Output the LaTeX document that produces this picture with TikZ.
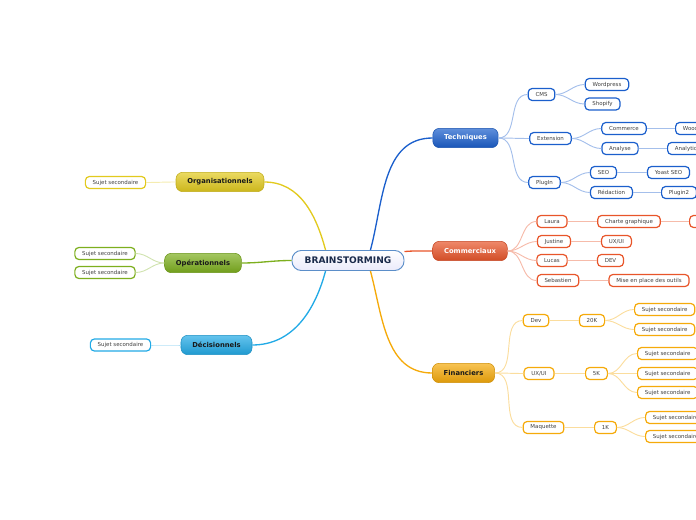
\documentclass[tikz,border=0pt]{standalone}
\usepackage{fontspec}
\setmainfont{DejaVu Sans}
\definecolor{techblue}{HTML}{1B5FCC}
\definecolor{commred}{HTML}{E8552A}
\definecolor{finorange}{HTML}{F5AA0A}
\definecolor{orgayellow}{HTML}{E2CA1E}
\definecolor{opergreen}{HTML}{7DAF1E}
\definecolor{decblue}{HTML}{22AAE6}
\definecolor{brainline}{HTML}{5B8EC9}
\definecolor{braintext}{HTML}{1A2A4A}
\tikzset{
  centre/.style={draw=brainline, line width=0.7pt, rounded corners=7pt, top color=white, bottom color=black!20!blue!8!white,
    text=braintext, minimum height=15pt, inner xsep=9.5pt, font=\fontsize{6.8}{8}\selectfont\bfseries},
  mainbox/.style={draw=#1!85!black, line width=0.4pt, rounded corners=5pt, top color=#1!70!white, bottom color=#1!90!black,
    text=black!90, minimum height=14.5pt, inner xsep=8.5pt, font=\fontsize{5.1}{6}\selectfont\bfseries},
  leaf/.style={draw=#1, line width=0.9pt, fill=white, rounded corners=3pt, minimum height=9pt, inner xsep=5.5pt, inner ysep=0pt,
    text=black!75, font=\fontsize{4.1}{5}\selectfont},
  link/.style={draw=#1, line width=0.7pt},
  mainlink/.style={draw=#1, line width=1pt}
}
\begin{document}
\begin{tikzpicture}[x=0.75pt,y=-0.75pt]
\useasboundingbox (0,0) rectangle (696,520);
\clip (0,0) rectangle (696,520);

\node[centre] (brain) at (348,260.5) {BRAINSTORMING};
\node[mainbox=techblue,text=white] (tech) at (465.5,138) {Techniques};
\node[mainbox=commred,text=white] (comm) at (470,251) {Commerciaux};
\node[mainbox=finorange] (fin) at (463.5,373) {Financiers};
\node[mainbox=orgayellow] (orga) at (220,182) {Organisationnels};
\node[mainbox=opergreen] (oper) at (203,263) {Opérationnels};
\node[mainbox=decblue] (deci) at (216.5,345) {Décisionnels};

\draw[mainlink=techblue] (brain.25) to[out=75,in=180] (tech.west);
\draw[mainlink=commred] (brain.9) to[out=5,in=180] (comm.west);
\draw[mainlink=finorange] (brain.-25) to[out=-75,in=180] (fin.west);
\draw[mainlink=orgayellow] (brain.155) to[out=105,in=0] (orga.east);
\draw[mainlink=opergreen] (brain.west) to[out=180,in=0] (oper.east);
\draw[mainlink=decblue] (brain.-155) to[out=-105,in=0] (deci.east);

\node[leaf=orgayellow] (orga1) at (115.5,182.5) {Sujet secondaire};
\node[leaf=opergreen] (oper1) at (105,253.5) {Sujet secondaire};
\node[leaf=opergreen] (oper2) at (105,272.5) {Sujet secondaire};
\node[leaf=decblue] (deci1) at (120.5,345) {Sujet secondaire};
\draw[link=orgayellow!35] (orga.west) to[out=180,in=0] (orga1.east);
\draw[link=opergreen!35] (oper.west) to[out=180,in=0] (oper1.east);
\draw[link=opergreen!35] (oper.west) to[out=180,in=0] (oper2.east);
\draw[link=decblue!35] (deci.west) to[out=180,in=0] (deci1.east);

\node[leaf=techblue] (cms) at (541.5,94.5) {CMS};
\node[leaf=techblue] (wordpress) at (607,84.5) {Wordpress};
\node[leaf=techblue] (shopify) at (602.5,104) {Shopify};
\node[leaf=techblue] (ext) at (550.5,138.5) {Extension};
\node[leaf=techblue] (commerce) at (624,128.5) {Commerce};
\node[leaf=techblue] (analyse) at (620,148.5) {Analyse};
\node[leaf=techblue,anchor=west] (woo) at (675,128.5) {Woocommerce};
\node[leaf=techblue,anchor=west] (analytics) at (667,148.5) {Analytics};
\node[leaf=techblue] (plugin) at (544.5,182.5) {PlugIn};
\node[leaf=techblue] (seo) at (603.5,172.5) {SEO};
\node[leaf=techblue] (yoast) at (668.5,172.5) {Yoast SEO};
\node[leaf=techblue] (redac) at (611.5,192.5) {Rédaction};
\node[leaf=techblue,anchor=west] (plugin2) at (661,192.5) {Plugin2};
\foreach \a/\b in {tech/cms,tech/ext,tech/plugin,cms/wordpress,cms/shopify,ext/commerce,ext/analyse,
  commerce/woo,analyse/analytics,plugin/seo,plugin/redac,seo/yoast,redac/plugin2}
  \draw[link=techblue!40] (\a.east) to[out=0,in=180] (\b.west);

\node[leaf=commred] (laura) at (552,221.5) {Laura};
\node[leaf=commred] (charte) at (629,221.5) {Charte graphique};
\node[leaf=commred,anchor=west,minimum width=20pt] (chartenext) at (689,221.5) {};
\node[leaf=commred] (justine) at (554,241.5) {Justine};
\node[leaf=commred] (uxui) at (616.5,241.5) {UX/UI};
\node[leaf=commred] (lucas) at (552,260.5) {Lucas};
\node[leaf=commred] (dev) at (610.5,260.5) {DEV};
\node[leaf=commred] (sebastien) at (558,280.5) {Sebastien};
\node[leaf=commred] (outils) at (649,280.5) {Mise en place des outils};
\foreach \a/\b in {comm/laura,comm/justine,comm/lucas,comm/sebastien,laura/charte,charte/chartenext,
  justine/uxui,lucas/dev,sebastien/outils}
  \draw[link=commred!40] (\a.east) to[out=0,in=180] (\b.west);

\node[leaf=finorange] (fdev) at (536,320.5) {Dev};
\node[leaf=finorange] (k20) at (592,320.5) {20K};
\node[leaf=finorange] (fux) at (539,373.5) {UX/UI};
\node[leaf=finorange] (k5) at (596.5,373.5) {5K};
\node[leaf=finorange] (maq) at (543.5,427.5) {Maquette};
\node[leaf=finorange] (k1) at (605.5,427.5) {1K};
\foreach \a/\b in {fin/fdev,fin/fux,fin/maq,fdev/k20,fux/k5,maq/k1}
  \draw[link=finorange!40] (\a.east) to[out=0,in=180] (\b.west);
\foreach \p/\n/\x/\y in {k20/s1/634/309.5,k20/s2/634/329.5,k5/s3/637/353.5,k5/s4/637/373.5,k5/s5/637/392.5,
  k1/s6/645/417.5,k1/s7/645/436.5} {
  \node[leaf=finorange,anchor=west] (\n) at (\x,\y) {Sujet secondaire};
  \draw[link=finorange!40] (\p.east) to[out=0,in=180] (\n.west);
}
\end{tikzpicture}
\end{document}
